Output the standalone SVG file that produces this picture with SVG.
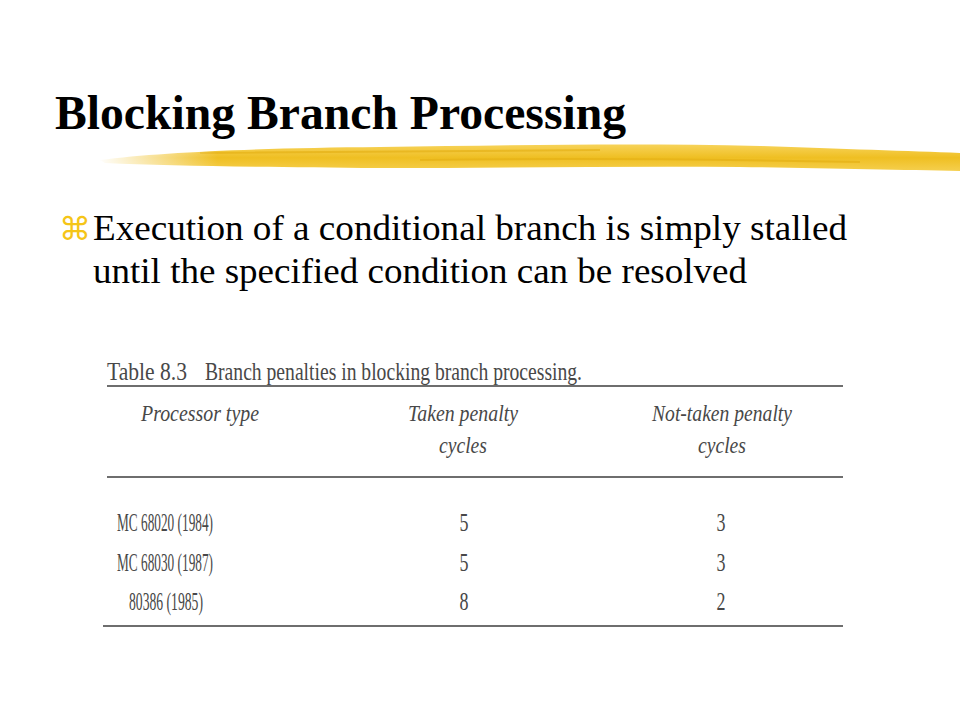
<svg xmlns="http://www.w3.org/2000/svg" width="960" height="720" viewBox="0 0 960 720">
<defs>
<linearGradient id="brush" x1="0" y1="0" x2="0" y2="1">
<stop offset="0" stop-color="#f7d35a"/>
<stop offset="0.5" stop-color="#efbf22"/>
<stop offset="1" stop-color="#f5cf4e"/>
</linearGradient>
<linearGradient id="fadeL" x1="0" y1="0" x2="1" y2="0">
<stop offset="0" stop-color="#ffffff" stop-opacity="1"/>
<stop offset="1" stop-color="#ffffff" stop-opacity="0"/>
</linearGradient>
</defs>
<style>
.title{font-family:"Liberation Serif","Times New Roman",serif;font-weight:bold;font-size:48px;fill:#000}
.body{font-family:"Liberation Serif","Times New Roman",serif;font-size:35px;fill:#000}
.tb{font-family:"Liberation Serif","Times New Roman",serif;font-size:25px;fill:#484848}
.ti{font-family:"Liberation Serif","Times New Roman",serif;font-size:23px;font-style:italic;fill:#484848}
.rule{stroke:#6e6e6e;stroke-width:2;fill:none}
</style>
<rect width="960" height="720" fill="#ffffff"/>
<g id="title">
<text class="title" x="55" y="129" textLength="571" lengthAdjust="spacingAndGlyphs">Blocking Branch Processing</text>
</g>
<g id="brushstroke">
<path d="M100,160 C160,152 260,148 380,147 C520,145 640,143 760,146 C840,149 910,151 960,153 L960,171 C900,170 820,168 740,167 C620,166 500,168 380,168 C260,167 170,166 105,163 Z" fill="url(#brush)"/>
<path d="M200,153 C320,151 460,152 600,150 M420,160 C560,158 700,159 860,162" stroke="#e2ad10" stroke-width="2" fill="none" opacity="0.6"/>
<rect x="98" y="140" width="120" height="32" fill="url(#fadeL)"/>
</g>
<g id="bullet">
<text x="59" y="240" font-family="'DejaVu Sans',sans-serif" font-size="32" fill="#f5c518">⌘</text>
<text class="body" x="93" y="240" textLength="754" lengthAdjust="spacingAndGlyphs">Execution of a conditional branch is simply stalled</text>
<text class="body" x="93" y="283" textLength="654" lengthAdjust="spacingAndGlyphs">until the specified condition can be resolved</text>
</g>
<g id="table">
<text class="tb" x="107" y="380" textLength="80" lengthAdjust="spacingAndGlyphs" fill="#333">Table 8.3</text>
<text class="tb" x="205" y="380" textLength="377" lengthAdjust="spacingAndGlyphs">Branch penalties in blocking branch processing.</text>
<line class="rule" x1="107" y1="386" x2="843" y2="386"/>
<text class="ti" x="141" y="421" textLength="118" lengthAdjust="spacingAndGlyphs">Processor type</text>
<text class="ti" x="463" y="421" text-anchor="middle" textLength="110" lengthAdjust="spacingAndGlyphs">Taken penalty</text>
<text class="ti" x="463" y="453" text-anchor="middle" textLength="48" lengthAdjust="spacingAndGlyphs">cycles</text>
<text class="ti" x="722" y="421" text-anchor="middle" textLength="140" lengthAdjust="spacingAndGlyphs">Not-taken penalty</text>
<text class="ti" x="722" y="453" text-anchor="middle" textLength="48" lengthAdjust="spacingAndGlyphs">cycles</text>
<line class="rule" x1="107" y1="477" x2="843" y2="477"/>
<text class="tb" x="117" y="531" textLength="96" lengthAdjust="spacingAndGlyphs">MC 68020 (1984)</text>
<text class="tb" x="464" y="531" text-anchor="middle" textLength="9" lengthAdjust="spacingAndGlyphs">5</text>
<text class="tb" x="721" y="531" text-anchor="middle" textLength="9" lengthAdjust="spacingAndGlyphs">3</text>
<text class="tb" x="117" y="571" textLength="96" lengthAdjust="spacingAndGlyphs">MC 68030 (1987)</text>
<text class="tb" x="464" y="571" text-anchor="middle" textLength="9" lengthAdjust="spacingAndGlyphs">5</text>
<text class="tb" x="721" y="571" text-anchor="middle" textLength="9" lengthAdjust="spacingAndGlyphs">3</text>
<text class="tb" x="129" y="610" textLength="74" lengthAdjust="spacingAndGlyphs">80386 (1985)</text>
<text class="tb" x="464" y="610" text-anchor="middle" textLength="9" lengthAdjust="spacingAndGlyphs">8</text>
<text class="tb" x="721" y="610" text-anchor="middle" textLength="9" lengthAdjust="spacingAndGlyphs">2</text>
<line class="rule" x1="103" y1="626" x2="843" y2="626"/>
</g>
</svg>
